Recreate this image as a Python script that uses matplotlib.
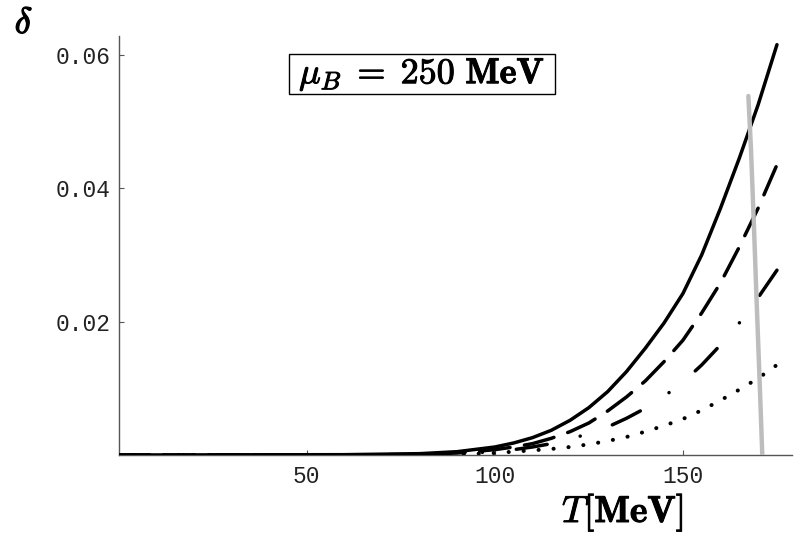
import matplotlib
matplotlib.use('Agg')
import matplotlib.pyplot as plt
import matplotlib.patheffects as pe
from matplotlib.patches import Rectangle

plt.rcParams['mathtext.fontset'] = 'cm'
plt.rcParams['lines.scale_dashes'] = False

# data
T = [0, 60, 80, 90, 100, 105, 110, 115, 120, 125, 130, 135, 140, 145, 150, 155, 160, 165, 170, 175]
delta_solid = [0, 0.00005, 0.0002, 0.0005, 0.0012, 0.0018, 0.0026, 0.0037, 0.0052, 0.0071, 0.0095,
               0.0125, 0.0160, 0.0198, 0.0242, 0.0300, 0.0370, 0.0445, 0.0525, 0.0615]
delta_dash = [0, 0, 0.0001, 0.0003, 0.0008, 0.0012, 0.0017, 0.0025, 0.0035, 0.0048, 0.0066,
              0.0087, 0.0111, 0.0140, 0.0172, 0.0213, 0.0258, 0.0312, 0.0370, 0.0435]
delta_dashdot = [0, 0, 0.0001, 0.0002, 0.0005, 0.0008, 0.0012, 0.0017, 0.0024, 0.0032, 0.0042,
                 0.0055, 0.0070, 0.0088, 0.0109, 0.0135, 0.0165, 0.0198, 0.0236, 0.0277]
delta_dot = [0, 0, 0, 0.0001, 0.0003, 0.0005, 0.0007, 0.0009, 0.0012, 0.0016, 0.0021,
             0.0027, 0.0035, 0.0044, 0.0054, 0.0067, 0.0082, 0.0098, 0.0115, 0.0135]

# grey boundary line
T_c = [167.4, 168.1, 168.9, 169.6, 170.4, 171.1]
delta_c = [0.0538, 0.0458, 0.034, 0.023, 0.011, 0.0]

xticks = [50, 100, 150]
yticks = [0.02, 0.04, 0.06]
ytick_labels = ['0.02', '0.04', '0.06']

W, H = 794, 534
fig = plt.figure(figsize=(W / 100, H / 100), dpi=100)
ax = fig.add_axes([118.7 / W, (H - 455) / H, (792 - 118.7) / W, (455 - 36) / H])

lw = 2.5
ax.plot(T, delta_solid, color='k', lw=lw, solid_capstyle='round', zorder=3)
ax.plot(T, delta_dash, color='k', lw=lw, dashes=(22, 10.5), dash_capstyle='round', zorder=3)
ax.plot(T, delta_dashdot, color='k', lw=lw, dashes=(22.5, 24.5, 0.1, 24.5),
        dash_capstyle='round', zorder=3)
ax.plot(T, delta_dot, color='k', lw=2.9, dashes=(0.1, 10.7), dash_capstyle='round', zorder=3)
ax.plot(T_c, delta_c, color='#bdbdbd', lw=3.2, solid_capstyle='round', zorder=4)

ax.set_xlim(0, 179)
ax.set_ylim(0, 0.0628)
for s in ['top', 'right']:
    ax.spines[s].set_visible(False)
for s in ['left', 'bottom']:
    ax.spines[s].set_color('#555555')
    ax.spines[s].set_linewidth(1.0)

ax.set_xticks(xticks)
ax.set_xticklabels([str(v) for v in xticks])
ax.set_yticks(yticks)
ax.set_yticklabels(ytick_labels)
ax.tick_params(direction='in', length=3.5, width=0.8, color='#555555',
               labelsize=16.5, labelcolor='#222222')
ax.tick_params(axis='x', pad=7)
ax.tick_params(axis='y', pad=6)
for lab in ax.get_xticklabels() + ax.get_yticklabels():
    lab.set_fontfamily('Liberation Mono')

bold = [pe.withStroke(linewidth=0.7, foreground='black')]
fig.text(562 / W, 1 - 522 / H, r'$T\mathbf{[MeV]}$', fontsize=27, ha='left', va='baseline',
         path_effects=bold)
fig.text(24 / W, 1 - 23 / H, r'$\delta$', fontsize=26, ha='center', va='center',
         path_effects=[pe.withStroke(linewidth=1.0, foreground='black')])

# boxed label
fig.patches.append(Rectangle((289.3 / W, 1 - 94 / H), (555 - 289.3) / W, 40 / H,
                             transform=fig.transFigure, fill=False, ec='black', lw=1.0))
fig.text(422 / W, 1 - 83.3 / H, r'$\mu_B\;=\;\mathbf{250\ MeV}$', fontsize=26,
         ha='center', va='baseline', path_effects=bold)

fig.savefig('out.png', dpi=100, facecolor='white')
